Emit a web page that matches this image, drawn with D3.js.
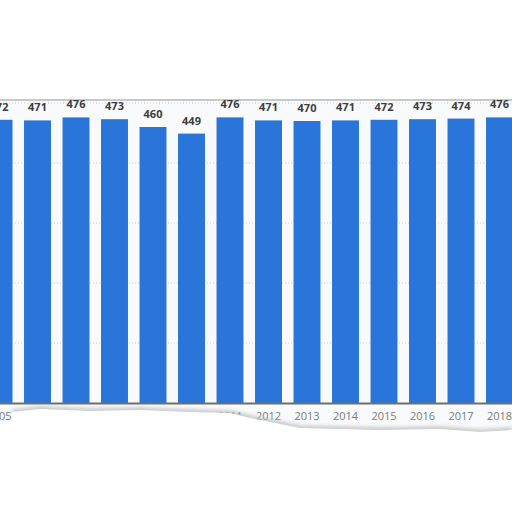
<!DOCTYPE html>
<html>
<head>
<meta charset="utf-8">
<script src="https://cdn.jsdelivr.net/npm/d3@7"></script>
<style>
  body { margin: 0; background: #fff; }
  svg { display: block; font-family: "Open Sans", Lato, sans-serif; }
</style>
</head>
<body>
<div id="chart"></div>
<script>
// values
let years = ["2005", "2006", "2007", "2008", "2009", "2010", "2011", "2012",
             "2013", "2014", "2015", "2016", "2017", "2018"];
let values = [472, 471, 476, 473, 460, 449, 476, 471, 470, 471, 472, 473, 474, 476];
let yTicks = [0, 100, 200, 300, 400, 500];

let width = 512
let height = 512

var plotTop = 103;
var baseY = 403;

var svg = d3.select("#chart")
    .append("svg")
    .attr("width", width)
    .attr("height", height);

var defs = svg.append("defs");
defs.append("filter").attr("id", "blur")
    .attr("x", "-10%").attr("y", "-200%").attr("width", "120%").attr("height", "500%")
    .append("feGaussianBlur").attr("stdDeviation", 2);

// the page-like background of the clipped chart
svg.append("rect")
    .attr("x", 0).attr("y", 100)
    .attr("width", width).attr("height", 330)
    .attr("fill", "#f8fafb");
svg.append("line")
    .attr("x1", 0).attr("x2", width)
    .attr("y1", 100).attr("y2", 100)
    .attr("stroke", "#c9c9c9").attr("stroke-width", 2);

var xScale = d3.scaleBand()
    .domain(years)
    .range([-20.25, 518.75])
    .paddingInner(0.3)
    .paddingOuter(0.15);

var yScale = d3.scaleLinear()
    .domain([0, 500])
    .range([baseY, plotTop]);

// dotted grid
svg.append("g")
    .selectAll("line")
    .data(yTicks.slice(1))
    .enter()
    .append("line")
    .attr("x1", 0).attr("x2", width)
    .attr("y1", function(d) { return yScale(d); })
    .attr("y2", function(d) { return yScale(d); })
    .attr("stroke", "#cfd3d6")
    .attr("stroke-dasharray", "1,2");

svg.append("g")
    .selectAll("rect")
    .data(values)
    .enter()
    .append("rect")
    .attr("x", function(d, i) { return xScale(years[i]); })
    .attr("y", function(d) { return yScale(d); })
    .attr("width", xScale.bandwidth())
    .attr("height", function(d) { return baseY - yScale(d); })
    .attr("fill", "#2a75d9");

// value labels
svg.append("g")
    .selectAll("text")
    .data(values)
    .enter()
    .append("text")
    .attr("x", function(d, i) { return xScale(years[i]) + xScale.bandwidth() / 2; })
    .attr("y", function(d) { return yScale(d) - 9; })
    .attr("text-anchor", "middle")
    .attr("font-size", 11)
    .attr("font-weight", "bold")
    .attr("fill", "#3d3d3d")
    .text(function(d) { return d; });

// x axis
var xAxis = d3.axisBottom(xScale).tickSize(0).tickPadding(9);
var gx = svg.append("g")
    .attr("transform", "translate(0," + baseY + ")")
    .call(xAxis);
gx.select(".domain").attr("stroke", "#6e6e6e").attr("stroke-width", 2);
gx.selectAll("text")
    .attr("font-size", 11)
    .attr("font-family", "'Open Sans', sans-serif")
    .attr("fill", "#7a7a7a");

// torn edge covering the bottom
var torn = [[12, 412], [40, 409], [90, 411], [140, 410], [190, 412], [230, 413],
            [250, 418], [300, 428], [380, 430], [440, 429], [480, 432], [512, 430]];
svg.append("path")
    .attr("d", d3.line()(torn))
    .attr("fill", "none")
    .attr("stroke", "#b8b8b8")
    .attr("stroke-width", 4)
    .attr("filter", "url(#blur)");
svg.append("path")
    .attr("d", d3.line()(torn.concat([[512, 512], [0, 512], [0, 424], [12, 424]])))
    .attr("fill", "#fff");
</script>
</body>
</html>
